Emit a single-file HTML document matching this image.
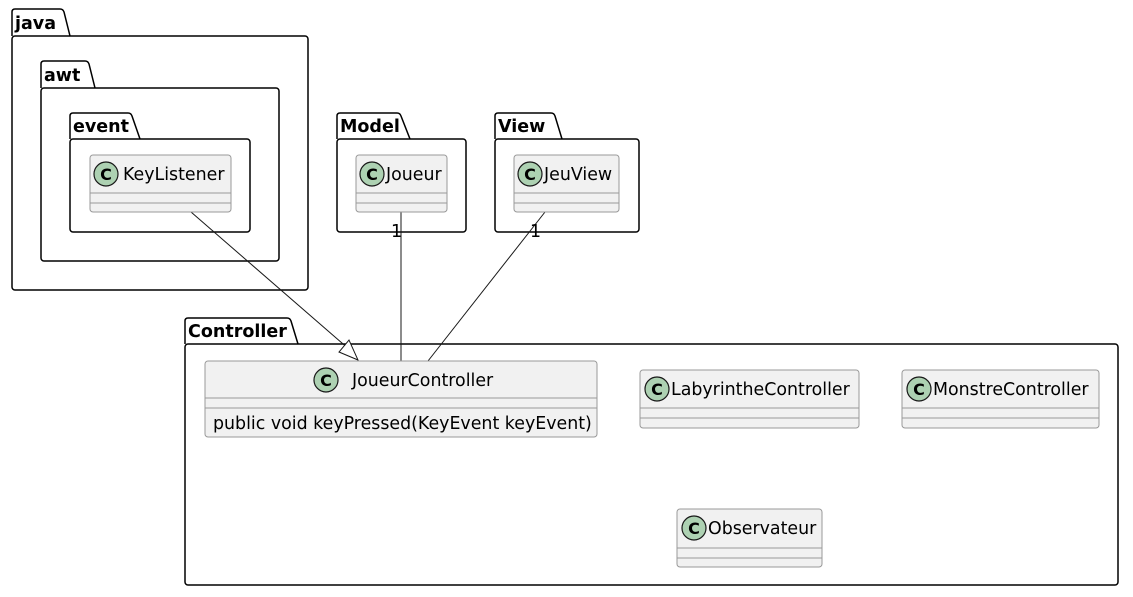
<!DOCTYPE html>
<html><head><meta charset="utf-8"><style>
html,body{margin:0;padding:0;background:#fff;}
svg{display:block;}
.pk{font-family:"DejaVu Sans","Liberation Sans",sans-serif;font-weight:bold;font-size:17.5px;fill:#000;}
.cn{font-family:"DejaVu Sans","Liberation Sans",sans-serif;font-size:17.4px;fill:#000;}
.ci{font-family:"DejaVu Sans","Liberation Sans",sans-serif;font-weight:bold;font-size:16px;fill:#000;}
</style></head><body>
<svg width="1133" height="597" viewBox="0 0 1133 597" xmlns="http://www.w3.org/2000/svg">
<g fill="none" stroke="#000" stroke-width="1.5">
<path d="M12,36 V12 Q12,9 15,9 H60 Q63,9 64,12 L70,36"/>
<rect x="12" y="36" width="296" height="254" rx="3"/>
<path d="M41,88 V64 Q41,61 44,61 H85 Q88,61 89,64 L95,88"/>
<rect x="41" y="88" width="238" height="173" rx="3"/>
<path d="M70,139 V116 Q70,113 73,113 H128 Q131,113 132,116 L140,139"/>
<rect x="70" y="139" width="180" height="93" rx="3"/>
<path d="M337,139 V116 Q337,113 340,113 H397 Q400,113 401,116 L410,139"/>
<rect x="337" y="139" width="129" height="93" rx="3"/>
<path d="M495,139 V116 Q495,113 498,113 H551 Q554,113 555,116 L562,139"/>
<rect x="495" y="139" width="144" height="93" rx="3"/>
<path d="M185,344 V321 Q185,318 188,318 H287 Q290,318 291,321 L298,344"/>
<rect x="185" y="344" width="933" height="241" rx="3"/>
</g>
<text class="pk" x="15" y="29">java</text>
<text class="pk" x="44" y="81">awt</text>
<text class="pk" x="73" y="132">event</text>
<text class="pk" x="340" y="132">Model</text>
<text class="pk" x="498" y="132">View</text>
<text class="pk" x="188" y="337">Controller</text>

<g stroke="#181818" stroke-width="1" fill="none">
<line x1="191" y1="212" x2="350" y2="350"/>
<polygon points="358,360 339,352 349,340" fill="#fff"/>
<line x1="401" y1="212" x2="401" y2="361"/>
<line x1="545" y1="212" x2="428" y2="361"/>
</g>
<text class="cn" x="391" y="237" font-size="15">1</text>
<text class="cn" x="530" y="237" font-size="15">1</text>

<g fill="#F1F1F1" stroke="#999" stroke-width="1">
<rect x="90" y="155" width="141" height="57" rx="3"/>
<rect x="356" y="155" width="91" height="57" rx="3"/>
<rect x="514" y="155" width="105" height="57" rx="3"/>
<rect x="205" y="361" width="392" height="76" rx="3"/>
<rect x="640" y="370" width="219" height="58" rx="3"/>
<rect x="902" y="370" width="197" height="58" rx="3"/>
<rect x="677" y="509" width="145" height="58" rx="3"/>
</g>
<g stroke="#999" stroke-width="1">
<line x1="90" y1="193" x2="231" y2="193"/><line x1="90" y1="203" x2="231" y2="203"/>
<line x1="356" y1="193" x2="447" y2="193"/><line x1="356" y1="203" x2="447" y2="203"/>
<line x1="514" y1="193" x2="619" y2="193"/><line x1="514" y1="203" x2="619" y2="203"/>
<line x1="205" y1="398" x2="597" y2="398"/><line x1="205" y1="408" x2="597" y2="408"/>
<line x1="640" y1="408" x2="859" y2="408"/><line x1="640" y1="418" x2="859" y2="418"/>
<line x1="902" y1="408" x2="1099" y2="408"/><line x1="902" y1="418" x2="1099" y2="418"/>
<line x1="677" y1="548" x2="822" y2="548"/><line x1="677" y1="558" x2="822" y2="558"/>
</g>
<g fill="#ADD1B2" stroke="#181818" stroke-width="1.2">
<circle cx="106" cy="174" r="12"/>
<circle cx="372" cy="174" r="12"/>
<circle cx="530" cy="174" r="12"/>
<circle cx="326" cy="380" r="12"/>
<circle cx="657" cy="389" r="12"/>
<circle cx="919" cy="389" r="12"/>
<circle cx="694" cy="528" r="12"/>
</g>
<g class="ci" text-anchor="middle">
<text x="106" y="180">C</text>
<text x="372" y="180">C</text>
<text x="530" y="180">C</text>
<text x="326" y="386">C</text>
<text x="657" y="395">C</text>
<text x="919" y="395">C</text>
<text x="694" y="534">C</text>
</g>
<text class="cn" x="123" y="180">KeyListener</text>
<text class="cn" x="386" y="180">Joueur</text>
<text class="cn" x="544" y="180">JeuView</text>
<text class="cn" x="352" y="386">JoueurController</text>
<text class="cn" x="213" y="429">public void keyPressed(KeyEvent keyEvent)</text>
<text class="cn" x="671" y="395">LabyrintheController</text>
<text class="cn" x="933" y="395">MonstreController</text>
<text class="cn" x="708" y="534">Observateur</text>
</svg>
</body></html>
